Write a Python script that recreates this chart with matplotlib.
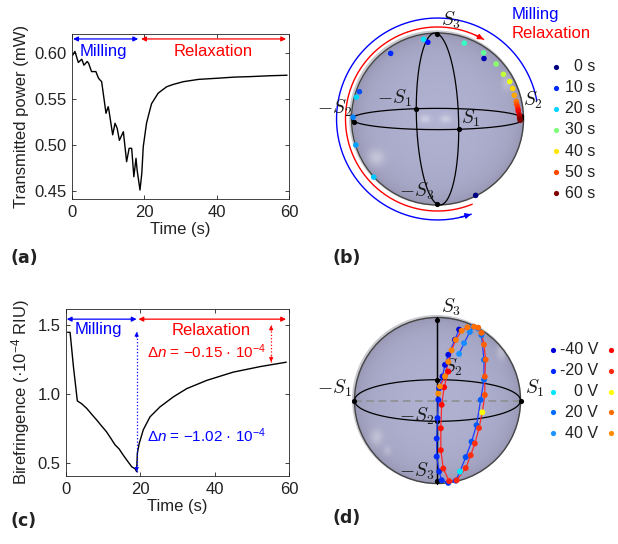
import numpy as np
import matplotlib.pyplot as plt
from matplotlib.patches import Circle

plt.rcParams['font.family'] = ['Liberation Sans', 'DejaVu Sans']
plt.rcParams['mathtext.fontset'] = 'custom'
plt.rcParams['mathtext.rm'] = 'Liberation Sans'
plt.rcParams['mathtext.it'] = 'Liberation Sans:italic'

# ---------------- data ----------------
# (a) transmitted power during milling / relaxation
t_a = [0.2, 0.8, 1.75, 2.7, 3.3, 4.2, 4.6, 5.4, 6.6, 7.3, 7.7, 8.2, 9.4, 10.0, 10.2,
       11.25, 11.9, 12.5, 13.1, 14.2, 15.1, 15.8, 16.5, 17.1, 17.7, 18.0, 18.8, 19.3,
       19.7, 20.6, 21.2, 22.0, 23.8, 25.0, 26.2, 28.0, 30.8, 35.0, 40.0, 45.0, 49.2, 55.0, 59.4]
p_a = [0.598, 0.602, 0.590, 0.5935, 0.587, 0.591, 0.589, 0.580, 0.580, 0.573, 0.571, 0.569,
       0.5345, 0.5417, 0.538, 0.511, 0.5236, 0.518, 0.505, 0.5144, 0.4817, 0.4963, 0.4963,
       0.4653, 0.4854, 0.4726, 0.4508, 0.469, 0.498, 0.5236, 0.533, 0.545, 0.5563, 0.560,
       0.5635, 0.566, 0.569, 0.5715, 0.5727, 0.574, 0.5745, 0.5755, 0.576]

# (c) birefringence (x 1e-4 RIU)
t_c = [0.5, 1.1, 2.0, 3.05, 4.2, 5.6, 7.0, 8.3, 9.5, 10.9, 12.0, 13.2, 14.3, 15.4, 16.6,
       17.7, 18.6, 19.0, 19.2, 19.7, 20.8, 22.6, 25.3, 28.9, 32.5, 37.9, 45.0, 52.2, 59.2]
b_c = [1.45, 1.45, 1.20, 0.95, 0.93, 0.895, 0.85, 0.81, 0.77, 0.725, 0.68, 0.63, 0.60, 0.555,
       0.51, 0.47, 0.455, 0.435, 0.57, 0.64, 0.74, 0.834, 0.907, 0.98, 1.04, 1.10, 1.16, 1.20, 1.232]

# (b) Stokes parameters vs time
t_b = [0, 3, 8, 10, 12, 15, 17, 19, 20, 21, 25, 28, 31, 35, 38, 41, 44, 47, 49, 51, 53, 54,
       56, 57, 59, 60]
s1_b = [0.07, -0.40, 0.29, 0.11, 0.01, -0.09, -0.20, -0.10, -0.05, 0.17, 0.32, -0.30, -0.26,
        -0.23, -0.17, -0.15, -0.15, -0.14, -0.12, -0.12, -0.09, -0.08, -0.07, -0.06, -0.05, -0.03]
s2_b = [0.44, 0.66, -0.19, -0.59, -0.94, -0.99, -0.93, -0.74, -0.96, -0.21, 0.24, 0.63, 0.77,
        0.85, 0.91, 0.94, 0.96, 0.98, 0.98, 0.99, 0.99, 0.99, 1.00, 1.00, 1.00, 1.00]
s3_b = [-0.90, 0.64, 0.94, 0.80, 0.35, 0.04, -0.30, -0.67, 0.28, 0.96, 0.92, 0.72, 0.59, 0.47,
        0.39, 0.31, 0.23, 0.16, 0.13, 0.10, 0.07, 0.05, 0.01, -0.01, -0.03, -0.05]
legend_times = [0, 10, 20, 30, 40, 50, 60]

# (d) Stokes parameters vs voltage, two sweeps
v_blue = [-40, -37, -34, -31, -28, -25, -22, -19, -16, -13, -10, -7, -4, -2, 0,
          3, 7, 10, 13, 17, 20, 23, 27, 30, 33, 37, 40]
s1_blue = [0.26, 0.21, 0.13, 0.09, 0.06, 0.02, 0.01, 0.00, -0.01, -0.01, 0.02, 0.05, 0.13, 0.22,
           0.27, 0.34, 0.41, 0.47, 0.52, 0.56, 0.56, 0.53, 0.49, 0.43, 0.39, 0.32, 0.26]
s2_blue = [-0.22, -0.44, -0.66, -0.76, -0.85, -0.92, -0.97, -1.00, -0.98, -0.88, -0.71, -0.51,
           -0.25, -0.34, -0.64, -0.79, -0.86, -0.88, -0.82, -0.70, -0.52, -0.10, 0.22, 0.07,
           -0.18, -0.45, -0.62]
s3_blue = [0.94, 0.87, 0.74, 0.64, 0.52, 0.39, 0.26, 0.04, -0.22, -0.47, -0.70, -0.86, -0.96,
           -0.91, -0.72, -0.50, -0.29, -0.08, 0.22, 0.44, 0.64, 0.84, 0.84, 0.90, 0.90, 0.83, 0.74]
v_red = [-40, -37, -34, -31, -28, -25, -22, -19, -15, -11, -7, -4, 0, 3, 7, 10, 13, 16, 19,
         22, 25, 28, 31, 33, 35, 37, 39, 40]
s1_red = [0.13, 0.08, 0.05, 0.04, 0.04, 0.07, 0.14, 0.23, 0.34, 0.40, 0.45, 0.50, 0.54, 0.57,
          0.57, 0.58, 0.56, 0.53, 0.49, 0.44, 0.36, 0.29, 0.22, 0.17, 0.13, 0.09, 0.03, 0.01]
s2_red = [-0.81, -0.91, -0.98, -0.99, -0.92, -0.76, -0.44, -0.36, -0.66, -0.78, -0.83, -0.86,
          -0.84, -0.78, -0.67, -0.51, -0.29, -0.03, 0.22, 0.11, -0.08, -0.24, -0.45, -0.60,
          -0.73, -0.85, -0.91, -0.94]
s3_red = [0.57, 0.40, 0.20, -0.09, -0.38, -0.65, -0.89, -0.90, -0.67, -0.48, -0.32, -0.12, 0.07,
          0.27, 0.47, 0.64, 0.77, 0.85, 0.85, 0.89, 0.93, 0.93, 0.87, 0.78, 0.67, 0.52, 0.41, 0.33]
legend_volts = [-40, -20, 0, 20, 40]

# colour nodes for the voltage sweeps
volt_nodes = [-40, -20, -1, 0, 1, 20, 40]
blue_nodes = [(0.0, 0.0, 0.85), (0.0, 0.15, 1.0), (0.0, 0.2, 1.0), (0.0, 0.9, 1.0),
              (0.0, 0.3, 1.0), (0.0, 0.42, 1.0), (0.1, 0.58, 1.0)]
red_nodes = [(1.0, 0.0, 0.0), (1.0, 0.15, 0.05), (1.0, 0.2, 0.05), (1.0, 1.0, 0.0),
             (1.0, 0.3, 0.0), (1.0, 0.42, 0.0), (1.0, 0.55, 0.0)]


def volt_color(V, nodes):
    return tuple(float(np.interp(V, volt_nodes, [c[k] for c in nodes])) for k in range(3))


def project(s1, s2, s3, azim, elev):
    a, e = np.radians(azim), np.radians(elev)
    s1, s2, s3 = np.asarray(s1), np.asarray(s2), np.asarray(s3)
    u = -np.sin(a) * s1 + np.cos(a) * s2
    v = -np.sin(e) * np.cos(a) * s1 - np.sin(e) * np.sin(a) * s2 + np.cos(e) * s3
    return u, v


def sphere_rgba(spots, n=500):
    g = np.linspace(-1, 1, n)
    X, Y = np.meshgrid(g, g)
    r2 = X**2 + Y**2
    Z = np.sqrt(np.clip(1 - r2, 0, 1))
    base = np.array([0.69, 0.69, 0.82])
    shade = 0.8 + 0.2 * Z**0.6
    rgb = base[None, None, :] * shade[..., None]
    for cx, cy, sx, sy, a in spots:
        w = a * np.exp(-((X - cx) / sx)**2 - ((Y - cy) / sy)**2)
        rgb = rgb + (1 - rgb) * w[..., None]
    alpha = np.clip((1 - np.sqrt(r2)) * n / 2, 0, 1)
    return np.dstack([rgb, alpha])


def draw_sphere(ax, azim, elev, spots, circles, labels):
    ax.add_patch(Circle((-0.012, 0.012), 1.018, color='#c9c9d0', zorder=0.5, lw=0))
    ax.imshow(sphere_rgba(spots), extent=[-1, 1, -1, 1], origin='lower', zorder=1,
              interpolation='bilinear')
    ax.add_patch(Circle((0, 0), 1.0, fill=False, ec='#454545', lw=1.0, zorder=2))
    tt = np.linspace(0, 2 * np.pi, 400)
    nil = np.zeros_like(tt)
    great = {'12': (np.cos(tt), np.sin(tt), nil), '13': (np.cos(tt), nil, np.sin(tt)),
             '23': (nil, np.cos(tt), np.sin(tt))}
    for key in circles:
        u, v = project(*great[key], azim, elev)
        ax.plot(u, v, color='black', lw=0.9, zorder=3)
    axes_pts = {'S1': (1, 0, 0), '-S1': (-1, 0, 0), 'S2': (0, 1, 0), '-S2': (0, -1, 0),
                'S3': (0, 0, 1), '-S3': (0, 0, -1)}
    for key, (dx, dy) in labels.items():
        u, v = project(*axes_pts[key], azim, elev)
        ax.scatter([u], [v], s=14, color='black', zorder=4, lw=0)
        txt = ('-' if key.startswith('-') else '') + 'S_' + key[-1]
        ax.annotate('$' + txt + '$', (u, v), xytext=(dx, dy), textcoords='offset pixels',
                    ha='center', va='center', fontsize=14, math_fontfamily='cm', zorder=3.5,
                    color='#1a1a1a')
    ax.set_aspect('equal')
    ax.axis('off')


fig = plt.figure(figsize=(6.18, 5.44), dpi=100)
W, H = 618, 544


def px_axes(left, top, right, bottom):
    return fig.add_axes([left / W, 1 - bottom / H, (right - left) / W, (bottom - top) / H])


def style_axes(ax):
    ax.tick_params(direction='in', length=3, width=0.6, top=True, right=True,
                   labelsize=12, colors='#222222', pad=4)
    for sp in ax.spines.values():
        sp.set_linewidth(0.6)
        sp.set_color('#222222')


# ---------------- (a) ----------------
ax = px_axes(72, 34, 289, 199)
ax.plot(t_a, p_a, color='black', lw=1)
ax.set_xlim(0, 60)
ax.set_ylim(0.441, 0.621)
ax.set_xticks([0, 20, 40, 60])
ax.set_yticks([0.45, 0.50, 0.55, 0.60])
ax.set_yticklabels(['0.45', '0.50', '0.55', '0.60'])
ax.set_xlabel('Time (s)', fontsize=12, color='#222222', labelpad=2)
ax.set_ylabel('Transmitted power (mW)', fontsize=12, color='#222222')
style_axes(ax)
ax.annotate('', xy=(18.3, 0.6156), xytext=(0.3, 0.6156),
            arrowprops=dict(arrowstyle='<|-|>', color='blue', lw=0.9, mutation_scale=7,
                            shrinkA=0, shrinkB=0))
ax.annotate('', xy=(59.2, 0.6156), xytext=(19.1, 0.6156),
            arrowprops=dict(arrowstyle='<|-|>', color='red', lw=0.9, mutation_scale=7,
                            shrinkA=0, shrinkB=0))
ax.text(2.2, 0.602, 'Milling', color='blue', fontsize=12, va='center', ha='left')
ax.text(39, 0.602, 'Relaxation', color='red', fontsize=12, va='center', ha='center')

# ---------------- (c) ----------------
ax = px_axes(66, 309, 289, 476)
ax.plot(t_c, b_c, color='black', lw=1)
ax.set_xlim(0, 60)
ax.set_ylim(0.403, 1.62)
ax.set_xticks([0, 20, 40, 60])
ax.set_yticks([0.5, 1.0, 1.5])
ax.set_yticklabels(['0.5', '1.0', '1.5'])
ax.set_xlabel('Time (s)', fontsize=12, color='#222222', labelpad=2)
ax.set_ylabel('Birefringence (·10$^{-4}$ RIU)', fontsize=12, color='#222222')
style_axes(ax)
ax.annotate('', xy=(19.0, 1.546), xytext=(0.2, 1.546),
            arrowprops=dict(arrowstyle='<|-|>', color='blue', lw=0.9, mutation_scale=7,
                            shrinkA=0, shrinkB=0))
ax.annotate('', xy=(59.2, 1.546), xytext=(19.5, 1.546),
            arrowprops=dict(arrowstyle='<|-|>', color='red', lw=0.9, mutation_scale=7,
                            shrinkA=0, shrinkB=0))
ax.text(2.4, 1.47, 'Milling', color='blue', fontsize=12, va='center', ha='left')
ax.text(39, 1.46, 'Relaxation', color='red', fontsize=12, va='center', ha='center')
# dotted difference markers
for x0, y0, y1, col in [(19.0, 0.434, 1.453, 'blue'), (55.2, 1.235, 1.50, 'red')]:
    ax.plot([x0, x0], [y0, y1], ls=':', color=col, lw=0.9)
    for ya, yb in [(y0 + 0.04, y0), (y1 - 0.04, y1)]:
        ax.annotate('', xy=(x0, yb), xytext=(x0, ya),
                    arrowprops=dict(arrowstyle='-|>', color=col, lw=0.6, mutation_scale=6,
                                    shrinkA=0, shrinkB=0))
ax.text(37.8, 1.308, '$\\Delta n$ = \u22120.15 \u00b7 10$^{-4}$', color='red', fontsize=11,
        ha='center', va='center')
ax.text(37.8, 0.70, '$\\Delta n$ = \u22121.02 \u00b7 10$^{-4}$', color='blue', fontsize=11,
        ha='center', va='center')

# ---------------- (b) ----------------
az_b, el_b = -14.3, 7.1
ax = fig.add_axes([330 / W, 1 - 226.5 / H, 215 / W, 215 / H])
ax.set_xlim(-1.25, 1.25)
ax.set_ylim(-1.25, 1.25)
draw_sphere(ax, az_b, el_b,
            spots=[(-0.15, 0.0, 0.07, 0.05, 0.35), (0.09, 0.0, 0.07, 0.05, 0.35),
                   (-0.72, -0.45, 0.1, 0.1, 0.35), (0.8, 0.42, 0.06, 0.1, 0.25)],
            circles=['12', '13'],
            labels={'S3': (14, 13), '-S1': (-22, 10), 'S1': (12, 11), 'S2': (12, 16),
                    '-S2': (-20, 13), '-S3': (-21, 13)})
jet = plt.get_cmap('jet')
u, v = project(s1_b, s2_b, s3_b, az_b, el_b)
ax.scatter(u, v, s=16, c=[jet(t / 60) for t in t_b], lw=0, zorder=5)
# milling / relaxation arcs
for r, a0, a1, col in [(1.174, 10.6, 289.4, 'blue'), (1.07, -68, -300, 'red')]:
    ang = np.radians(np.linspace(a0, a1, 300))
    ax.plot(r * np.cos(ang), r * np.sin(ang), color=col, lw=1, zorder=2.5, clip_on=False)
    ax.annotate('', xy=(r * np.cos(ang[-1]), r * np.sin(ang[-1])),
                xytext=(r * np.cos(ang[-8]), r * np.sin(ang[-8])),
                arrowprops=dict(arrowstyle='-|>', color=col, lw=1, mutation_scale=8,
                                shrinkA=0, shrinkB=0))

# ---------------- (d) ----------------
az_d, el_d = -90, 14.5
ax = fig.add_axes([330 / W, 1 - 508 / H, 215 / W, 215 / H])
ax.set_xlim(-1.295, 1.295)
ax.set_ylim(-1.295, 1.295)
draw_sphere(ax, az_d, el_d,
            spots=[(0.77, 0.59, 0.06, 0.1, 0.3), (-0.73, -0.44, 0.08, 0.1, 0.3),
                   (-0.6, -0.6, 0.05, 0.06, 0.2)],
            circles=['12', '23'],
            labels={'S3': (14, 13), '-S1': (-20, 12), 'S1': (14, 12), 'S2': (15, 12),
                    '-S2': (-21, 5), '-S3': (-21, 10)})
ax.plot([-1, 1], [0, 0], ls=(0, (5, 3)), color='#8c8c8c', lw=1.1, zorder=2.8)
for s1, s2, s3, vv, nodes, lc in [(s1_blue, s2_blue, s3_blue, v_blue, blue_nodes, '#1f3cff'),
                                  (s1_red, s2_red, s3_red, v_red, red_nodes, '#ff2a2a')]:
    u, v = project(s1, s2, s3, az_d, el_d)
    ax.plot(u, v, color=lc, lw=0.9, zorder=4.5)
    ax.scatter(u, v, s=18, c=[volt_color(x, nodes) for x in vv], lw=0, zorder=5)

# ---------------- overlay: legends, texts, panel labels ----------------
ov = fig.add_axes([0, 0, 1, 1], zorder=-1)
ov.set_xlim(0, W)
ov.set_ylim(H, 0)
ov.axis('off')
ov.patch.set_alpha(0)
ov.text(512, 15, 'Milling', color='blue', fontsize=12, va='center', ha='left')
ov.text(511.7, 33.3, 'Relaxation', color='red', fontsize=12, va='center', ha='left')
for i, t in enumerate(legend_times):
    y = 66.7 + i * 21.1
    ov.scatter([556], [y], s=14, color=jet(t / 60), lw=0)
    ov.text(595, y, '%d s' % t, fontsize=11.5, ha='right', va='center', color='#222222')
for i, V in enumerate(legend_volts):
    y = 350 + i * 20.8
    ov.scatter([552.7], [y], s=14, color=volt_color(V, blue_nodes), lw=0)
    ov.scatter([610.7], [y], s=14, color=volt_color(V, red_nodes), lw=0)
    ov.text(598, y, '%d V' % V, fontsize=11.5, ha='right', va='center', color='#222222')
for x, y, s in [(10, 258, '(a)'), (332, 258, '(b)'), (10, 521, '(c)'), (332, 518, '(d)')]:
    ov.text(x, y, s, fontsize=12.5, fontweight='bold', family='DejaVu Sans',
            ha='left', va='center', color='#222222')

fig.savefig('out.png', dpi=100)
